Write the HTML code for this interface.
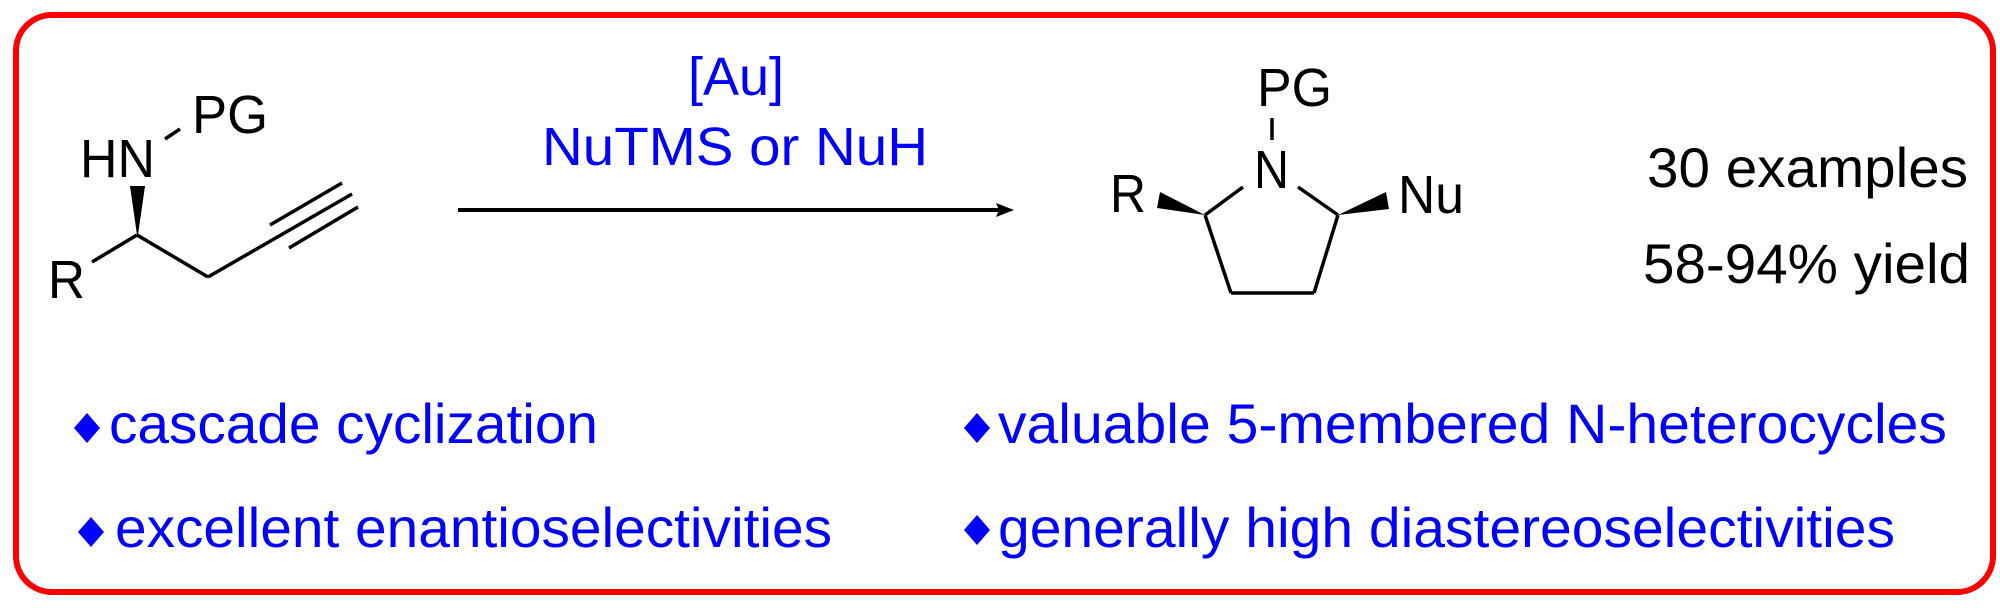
<!DOCTYPE html>
<html><head><meta charset="utf-8"><style>
html,body{margin:0;padding:0;background:#fff;}
svg{display:block;}
text{font-family:"Liberation Sans",Arial,sans-serif;}
</style></head><body>
<svg width="2000" height="608" viewBox="0 0 2000 608" xmlns="http://www.w3.org/2000/svg">
<rect x="0" y="0" width="2000" height="608" fill="#fff"/>
<rect x="16" y="15" width="1977" height="577" rx="36" ry="36" fill="none" stroke="#ff0000" stroke-width="6"/>

<!-- reactant -->
<g stroke="#000" stroke-width="3.5" fill="none" stroke-linecap="butt">
  <line x1="165" y1="139" x2="180" y2="129"/>
  <line x1="137" y1="235" x2="92" y2="262"/>
  <line x1="137" y1="235" x2="208" y2="277"/>
  <line x1="208" y1="277" x2="352" y2="194"/>
  <line x1="270" y1="225" x2="342" y2="183"/>
  <line x1="289" y1="248" x2="358" y2="207"/>
</g>
<polygon points="130,186 145,186 138,235 137,235" fill="#000"/>
<g font-size="54" fill="#000">
  <text x="80" y="177" textLength="75" lengthAdjust="spacingAndGlyphs">HN</text>
  <text x="192" y="133" textLength="76" lengthAdjust="spacingAndGlyphs">PG</text>
  <text x="48" y="298" textLength="37" lengthAdjust="spacingAndGlyphs">R</text>
</g>

<!-- conditions -->
<g font-size="54" fill="#0000ff" text-anchor="middle">
  <text x="736" y="95">[Au]</text>
  <text x="735" y="165" textLength="386" lengthAdjust="spacingAndGlyphs">NuTMS or NuH</text>
</g>
<line x1="458" y1="210" x2="1000" y2="210" stroke="#000" stroke-width="4"/>
<polygon points="1014,210 996,203 999,210 996,217" fill="#000"/>

<!-- product -->
<g stroke="#000" stroke-width="3.5" fill="none">
  <line x1="1272" y1="118" x2="1272" y2="140"/>
  <line x1="1243" y1="187" x2="1205" y2="215"/>
  <line x1="1298" y1="187" x2="1338" y2="215"/>
  <line x1="1205" y1="215" x2="1231" y2="293"/>
  <line x1="1231" y1="293" x2="1314" y2="293"/>
  <line x1="1314" y1="293" x2="1338" y2="215"/>
</g>
<polygon points="1205,215 1160,192 1157,208" fill="#000"/>
<polygon points="1338,215 1386,192 1389,209" fill="#000"/>
<g font-size="54" fill="#000">
  <text x="1257" y="106" textLength="75" lengthAdjust="spacingAndGlyphs">PG</text>
  <text x="1254" y="188" textLength="35" lengthAdjust="spacingAndGlyphs">N</text>
  <text x="1110" y="212" textLength="36" lengthAdjust="spacingAndGlyphs">R</text>
  <text x="1398" y="213" textLength="66" lengthAdjust="spacingAndGlyphs">Nu</text>
</g>

<g font-size="56" fill="#000">
  <text x="1647" y="187" textLength="321" lengthAdjust="spacingAndGlyphs">30 examples</text>
  <text x="1643" y="283" textLength="327" lengthAdjust="spacingAndGlyphs">58-94% yield</text>
</g>

<!-- bullets -->
<g fill="#0000ff">
  <polygon points="87,413 100,428 87,443 74,428"/>
  <polygon points="91,517 104,532 91,547 78,532"/>
  <polygon points="977,413 990,428 977,443 964,428"/>
  <polygon points="977,515 990,530 977,545 964,530"/>
</g>
<g font-size="56" fill="#0000ff">
  <text x="109" y="443" textLength="489" lengthAdjust="spacingAndGlyphs">cascade cyclization</text>
  <text x="115" y="547" textLength="717" lengthAdjust="spacingAndGlyphs">excellent enantioselectivities</text>
  <text x="998" y="443" textLength="949" lengthAdjust="spacingAndGlyphs">valuable 5-membered N-heterocycles</text>
  <text x="998" y="547" textLength="897" lengthAdjust="spacingAndGlyphs">generally high diastereoselectivities</text>
</g>
</svg>
</body></html>
